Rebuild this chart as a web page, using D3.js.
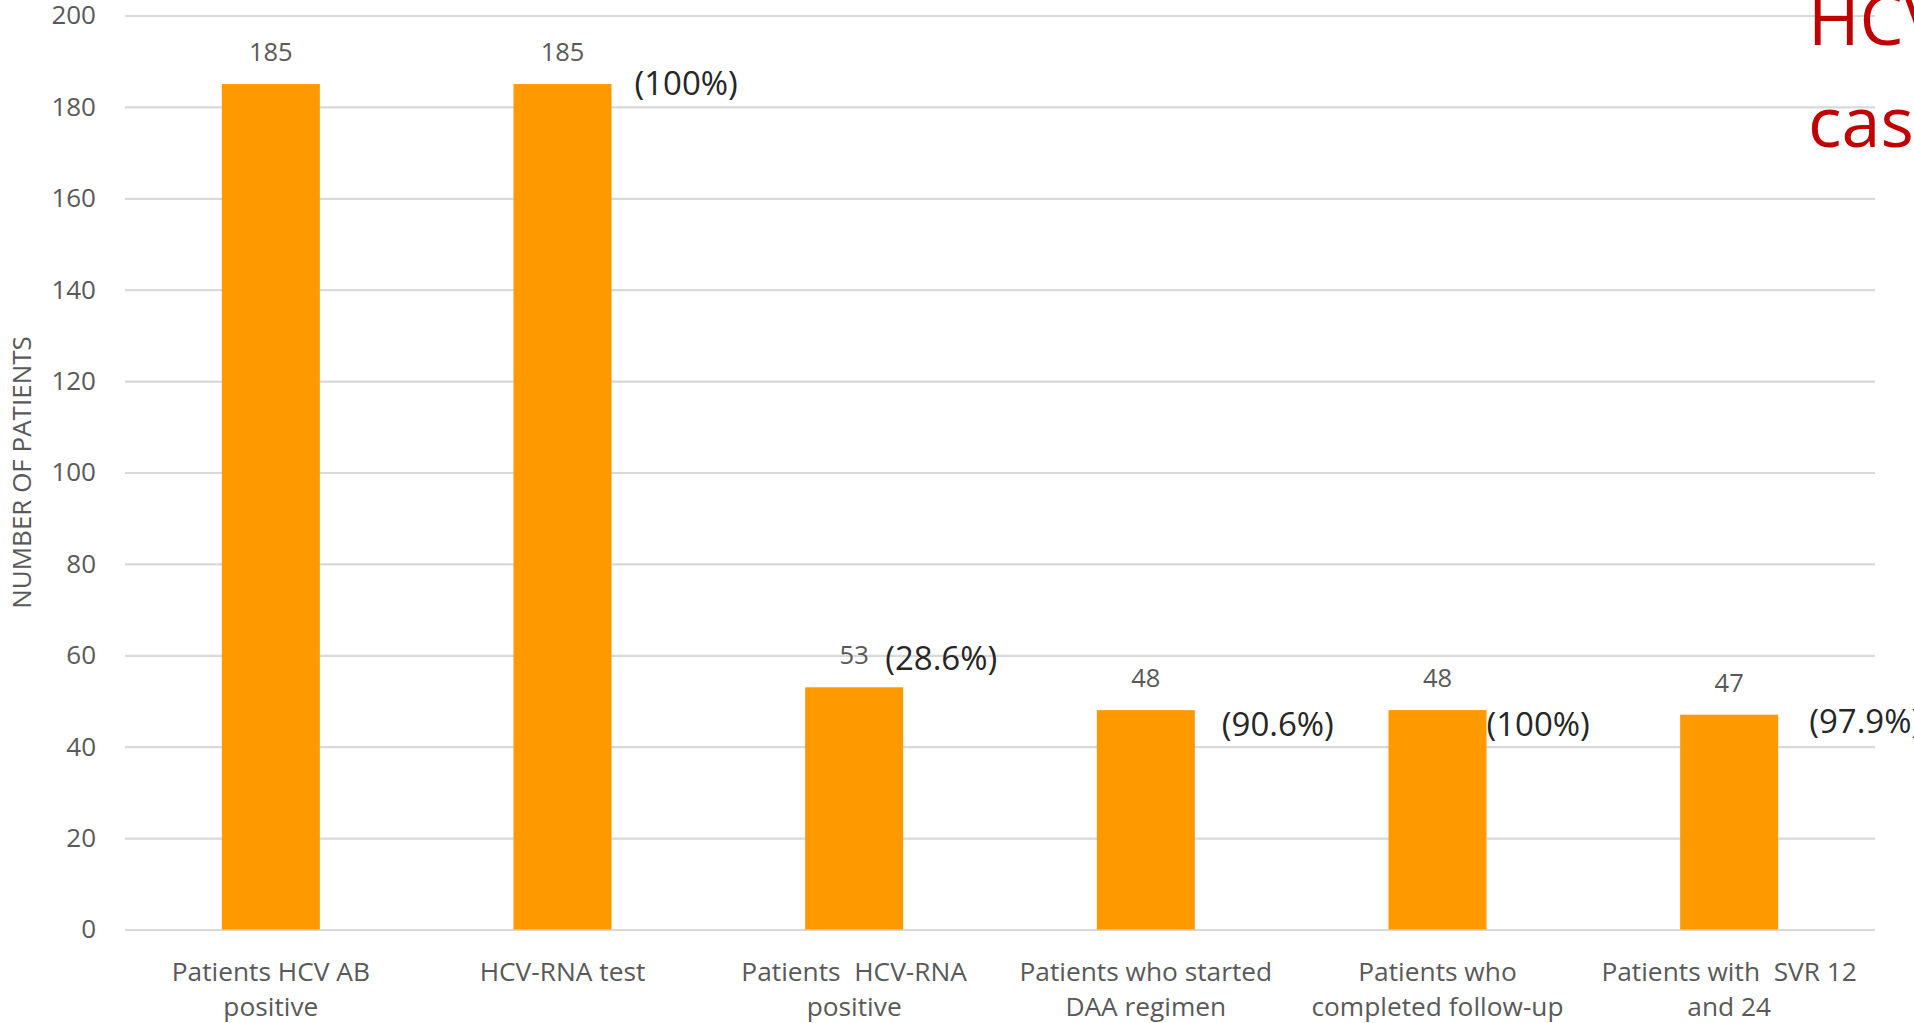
<!DOCTYPE html>
<html>
<head>
<meta charset="utf-8">
<script src="https://cdn.jsdelivr.net/npm/d3@7"></script>
<style>
  html, body { margin: 0; padding: 0; background: #fff; }
  svg { display: block; font-family: "Open Sans", "Noto Sans", sans-serif; }
  .tick text, .cat, .val { white-space: pre; }
</style>
</head>
<body>
<svg id="chart" width="1914" height="1023"></svg>
<script>
// Care cascade: number of patients at each step
const categories = [
  "Patients HCV AB\npositive",
  "HCV-RNA test",
  "Patients  HCV-RNA\npositive",
  "Patients who started\nDAA regimen",
  "Patients who\ncompleted follow-up",
  "Patients with  SVR 12\nand 24"
];
const patients = [185, 185, 53, 48, 48, 47];
const percentLabels = ["", "(100%)", "(28.6%)", "(90.6%)", "(100%)", "(97.9%)"];
const yTicks = [0, 20, 40, 60, 80, 100, 120, 140, 160, 180, 200];
const titleLines = ["HCV", "cascade"];

// hand placement of the percentage call-outs (offset from bar's right edge / top)
const percentPlacement = [
  null,
  { dx: 23, dy: 11 },
  { dx: -18, dy: -17 },
  { dx: 27, dy: 26 },
  { dx: 0, dy: 26 },
  { dx: 31, dy: 18 }
];

const svg = d3.select("#chart");
svg.append("rect").attr("width", 1914).attr("height", 1023).attr("fill", "#fff");

const plot = { left: 125, right: 1875, top: 15.5, bottom: 929.5 };

const x = d3.scaleBand()
  .domain(categories)
  .range([plot.left, plot.right])
  .paddingInner(0.664)
  .paddingOuter(0.332);

const y = d3.scaleLinear()
  .domain([0, 200])
  .range([plot.bottom, plot.top]);

// gridlines and value axis
const yAxis = svg.append("g")
  .attr("transform", `translate(${plot.left},0)`)
  .call(d3.axisLeft(y)
    .tickValues(yTicks)
    .tickSize(-(plot.right - plot.left))
    .tickPadding(29));
yAxis.select(".domain").remove();
yAxis.selectAll(".tick line")
  .attr("stroke", "#d9d9d9")
  .attr("stroke-width", 2.2);
yAxis.selectAll(".tick text")
  .attr("fill", "#595959")
  .attr("font-size", 26)
  .attr("font-family", "'Open Sans', sans-serif");

// axis title
svg.append("text")
  .attr("transform", `translate(31,${(plot.top + plot.bottom) / 2}) rotate(-90)`)
  .attr("text-anchor", "middle")
  .attr("fill", "#595959")
  .attr("font-size", 26)
  .text("NUMBER OF PATIENTS");

// bars
svg.append("g").selectAll("rect")
  .data(categories)
  .join("rect")
  .attr("x", d => x(d))
  .attr("width", x.bandwidth())
  .attr("y", (d, i) => y(patients[i]))
  .attr("height", (d, i) => y(0) - y(patients[i]))
  .attr("fill", "#ff9900");

// value labels above bars
svg.append("g").selectAll("text")
  .data(categories)
  .join("text")
  .attr("class", "val")
  .attr("x", d => x(d) + x.bandwidth() / 2)
  .attr("y", (d, i) => y(patients[i]) - 23)
  .attr("text-anchor", "middle")
  .attr("fill", "#595959")
  .attr("font-size", 25.5)
  .text((d, i) => patients[i]);

// percentage call-outs
svg.append("g").selectAll("text")
  .data(categories.map((c, i) => ({ c, i })).filter(d => percentLabels[d.i]))
  .join("text")
  .attr("x", d => x(d.c) + x.bandwidth() + percentPlacement[d.i].dx)
  .attr("y", d => y(patients[d.i]) + percentPlacement[d.i].dy)
  .attr("fill", "#262626")
  .attr("font-size", 33)
  .text(d => percentLabels[d.i]);

// category labels (two lines)
const catG = svg.append("g");
categories.forEach(c => {
  const t = catG.append("text")
    .attr("class", "cat")
    .attr("text-anchor", "middle")
    .attr("fill", "#595959")
    .attr("font-size", 26.3);
  c.split("\n").forEach((line, j) => {
    t.append("tspan")
      .attr("x", x(c) + x.bandwidth() / 2)
      .attr("y", 981 + j * 35)
      .text(line);
  });
});

// slide heading at the right edge
const title = svg.append("text")
  .attr("fill", "#c00000")
  .attr("font-size", 70);
titleLines.forEach((line, j) => {
  title.append("tspan")
    .attr("x", 1808)
    .attr("y", 45 + j * 102)
    .text(line);
});
</script>
</body>
</html>
